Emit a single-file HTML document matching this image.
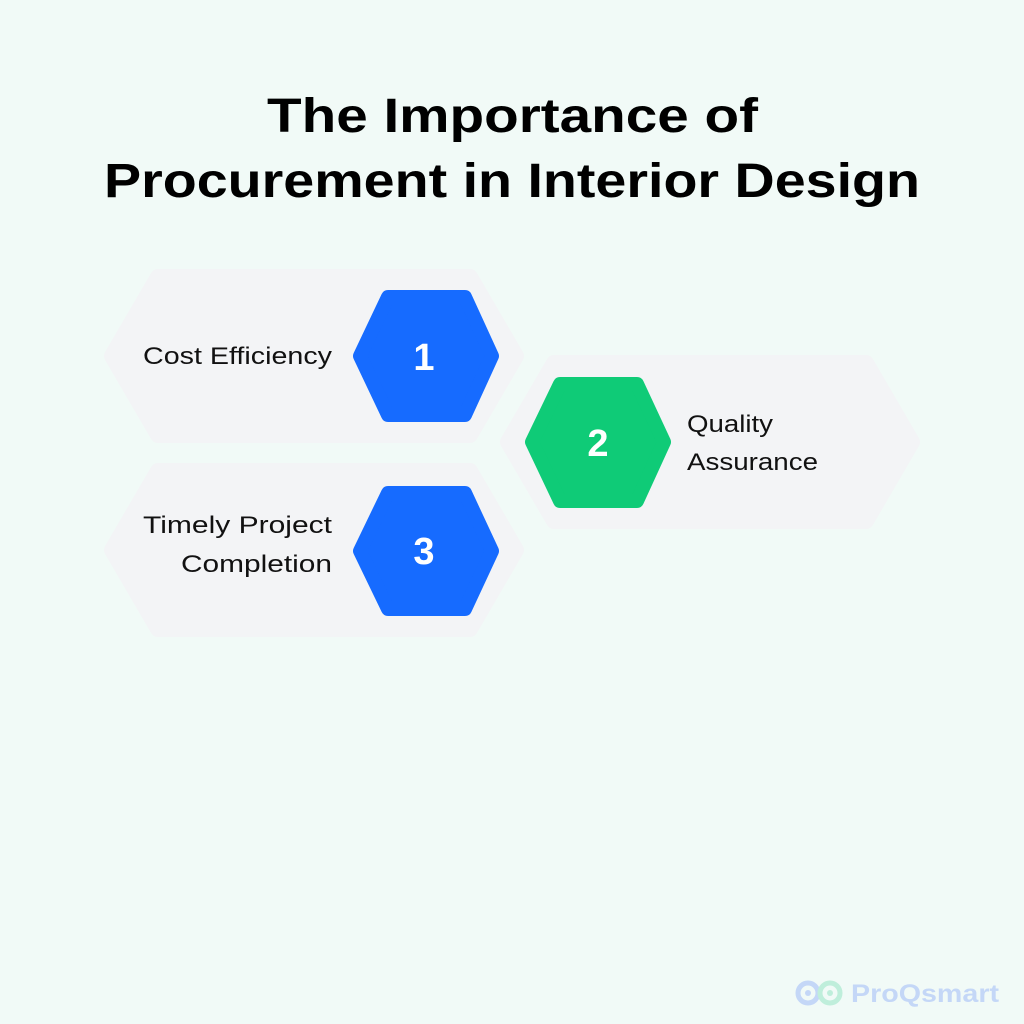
<!DOCTYPE html>
<html><head><style>
body{margin:0;background:#f1faf7;}
svg{display:block}
</style></head><body>
<svg width="1024" height="1024" viewBox="0 0 1024 1024" xmlns="http://www.w3.org/2000/svg">
<rect width="1024" height="1024" fill="#f1faf7"/>
<g font-family="Liberation Sans, sans-serif" font-weight="bold" font-size="48" fill="#000">
<text x="267" y="132" textLength="491" lengthAdjust="spacingAndGlyphs">The Importance of</text>
<text x="104" y="197" textLength="816" lengthAdjust="spacingAndGlyphs">Procurement in Interior Design</text>
</g>
<g fill="#f3f4f6" stroke="#f3f4f6" stroke-width="16" stroke-linejoin="round">
<polygon points="158,277 470,277 516,356 470,435 158,435 112,356"/>
<polygon points="158,471 470,471 516,550 470,629 158,629 112,550"/>
<polygon points="554,363 866,363 912,442 866,521 554,521 508,442"/>
</g>
<g stroke-width="14" stroke-linejoin="round">
<polygon fill="#166bff" stroke="#166bff" points="388,297 465,297 492,356 465,415 388,415 360,356"/>
<polygon fill="#166bff" stroke="#166bff" points="388,493 465,493 492,551 465,609 388,609 360,551"/>
<polygon fill="#0fcb77" stroke="#0fcb77" points="560,384 637,384 664,442 637,501 560,501 532,442"/>
</g>
<g font-family="Liberation Sans, sans-serif" font-weight="bold" font-size="38" fill="#fff" text-anchor="middle">
<text x="424" y="370">1</text>
<text x="598" y="456">2</text>
<text x="424" y="564">3</text>
</g>
<g font-family="Liberation Sans, sans-serif" font-size="24" fill="#111">
<text x="143" y="364" textLength="189" lengthAdjust="spacingAndGlyphs">Cost Efficiency</text>
<text x="143" y="533" textLength="189" lengthAdjust="spacingAndGlyphs">Timely Project</text>
<text x="181" y="572" textLength="151" lengthAdjust="spacingAndGlyphs">Completion</text>
<text x="687" y="432" textLength="86" lengthAdjust="spacingAndGlyphs">Quality</text>
<text x="687" y="470" textLength="131" lengthAdjust="spacingAndGlyphs">Assurance</text>
</g>
<g>
<circle cx="808" cy="993" r="10" fill="none" stroke="#c4d7f7" stroke-width="5"/>
<circle cx="808" cy="993" r="3" fill="#c4d7f7"/>
<circle cx="830" cy="993" r="10" fill="none" stroke="#bfeedb" stroke-width="5"/>
<circle cx="830" cy="993" r="3" fill="#bfeedb"/>
<text x="851" y="1002" font-family="Liberation Sans, sans-serif" font-weight="bold" font-size="25" fill="#c4d7f7" textLength="148" lengthAdjust="spacingAndGlyphs">ProQsmart</text>
</g>
</svg>
</body></html>
